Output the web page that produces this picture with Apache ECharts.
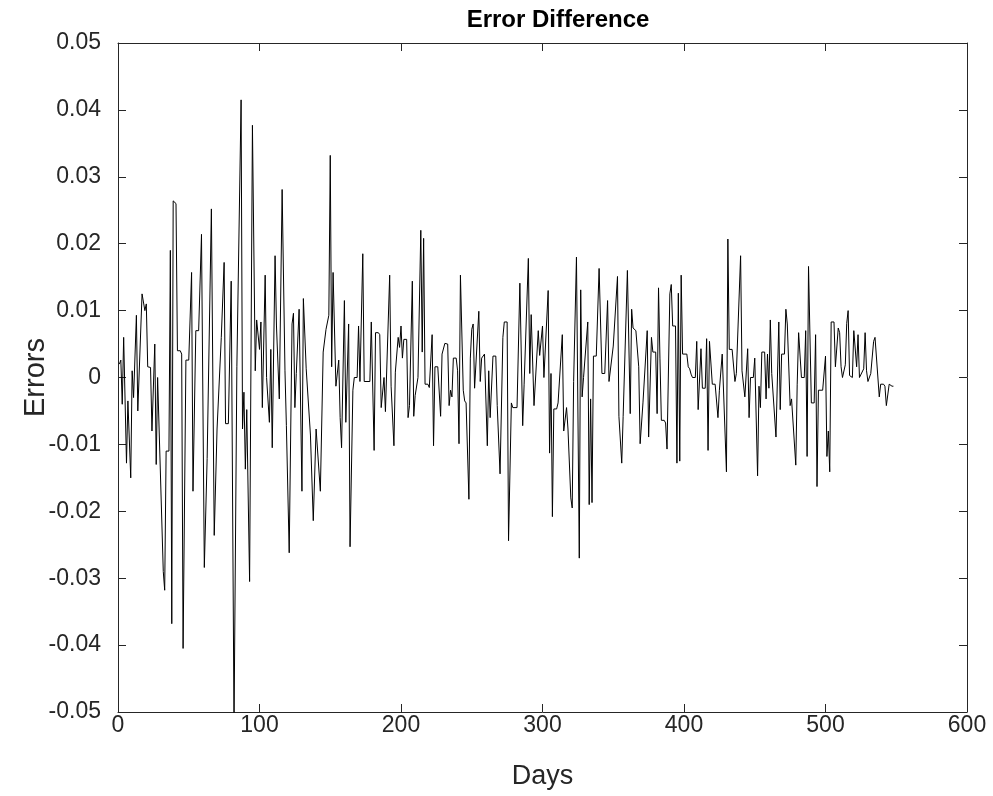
<!DOCTYPE html>
<html>
<head>
<meta charset="utf-8">
<script src="https://cdn.jsdelivr.net/npm/echarts@6/dist/echarts.min.js"></script>
<style>html,body{margin:0;padding:0;background:#fff;}#chart{width:993px;height:796px;}</style>
</head>
<body>
<div id="chart"></div>
<script>
const days = [1,2,3,4,6,7,8,9,10,11,13,14,15,17,19,20,21,23,24,26,27,28,29,32,33,34,36,37,38,39,41,42,44,45,46,48,50,52,53,55,57,59,61,63,64,66,68,70,71,73,75,76,78,80,82,84,85,87,88,89,90,91,92,93,95,97,98,99,100,101,102,104,105,106,107,108,109,111,112,113,114,116,118,119,120,121,123,124,125,126,127,128,130,131,133,134,136,138,140,141,143,145,147,148,149,150,151,152,154,155,156,157,158,160,161,162,163,164,166,167,169,170,171,173,174,178,179,181,182,184,185,186,188,189,190,192,193,195,196,197,198,199,200,201,202,204,205,206,208,209,210,211,212,214,215,216,217,219,220,222,223,224,226,228,229,231,233,234,235,236,237,239,240,241,242,244,245,246,248,249,250,251,252,253,255,256,257,259,260,261,262,263,265,267,268,270,272,273,275,276,278,279,282,284,286,287,288,290,291,292,294,295,297,298,300,301,302,304,305,306,307,308,310,311,314,315,316,317,318,320,321,322,323,324,326,327,328,329,330,332,333,334,335,336,338,340,342,344,346,347,350,351,353,354,356,357,358,360,362,363,364,366,368,369,371,372,374,375,377,378,380,381,382,383,384,386,387,388,390,391,392,394,395,396,397,398,399,402,403,404,405,406,408,409,410,412,413,415,416,417,418,420,422,424,425,427,428,430,431,432,434,436,437,440,441,442,443,445,446,447,449,450,452,453,454,455,457,458,459,460,461,462,463,465,467,468,469,471,472,473,475,476,477,479,480,481,483,485,486,487,488,490,492,493,494,495,498,500,501,502,503,504,506,507,509,510,511,512,513,514,515,516,517,519,520,522,523,524,525,527,528,529,530,532,533,534,535,538,539,541,542,543,545,547,548];
const errors = [0.002,0.0026,-0.004,0.006,-0.0128,-0.0035,-0.0035,-0.015,0.001,-0.003,0.0093,-0.005,-0.005,0.0125,0.010,0.011,0.0016,0.0015,-0.008,0.005,-0.013,0,0,-0.029,-0.0318,-0.011,-0.011,0.019,-0.0368,0.0264,0.026,0.004,0.004,0.0035,-0.0405,0.0026,0.0026,0.0157,-0.017,0.007,0.007,0.0214,-0.0284,-0.0121,-0.0121,0.0252,-0.0236,-0.0077,-0.0077,0.006,0.0172,-0.0069,-0.0069,0.0144,-0.052,0.0016,0.0016,0.0415,-0.0077,-0.0022,-0.0137,-0.0048,-0.0048,-0.0305,0.0377,0.001,0.0086,0.0086,0.0042,0.0083,-0.0045,0.0153,0,0,-0.0067,0.0042,-0.0105,0.0182,0.0077,0.0077,-0.0032,0.0281,0.001,-0.0072,-0.0072,-0.0262,0.008,0.0096,-0.0045,0.0006,0.0006,0.0102,-0.017,0.0118,0.0013,0.0013,-0.0086,-0.0214,-0.0077,-0.0077,-0.017,0.0038,0.0072,0.0072,0.0093,0.0332,0.0016,0.0157,-0.0013,-0.0013,0.0026,-0.006,-0.0105,0.0115,-0.0067,-0.0067,0.008,-0.0253,-0.0019,0,0,0.0077,-0.0006,0.0185,-0.0006,-0.0006,0.0083,-0.0109,0.0067,0.0067,0.0064,-0.0045,0,-0.0051,-0.0051,0.0153,-0.0013,-0.0102,0.0008,0.0008,0.006,0.0045,0.0077,0.0029,0.0057,0.0057,-0.006,-0.0042,0.0144,-0.0058,-0.0027,-0.0027,0,0.022,0.0038,0.0208,-0.001,-0.001,-0.0015,0.0064,-0.0102,0.0016,0.0016,-0.0058,0.0035,0.0051,0.005,-0.0042,-0.0019,-0.0029,0.0029,0.0029,0.001,-0.0099,0.0153,-0.0019,-0.0035,-0.0038,-0.0182,0.0029,0.0072,0.008,-0.0016,-0.0016,0.0099,-0.0006,0.0029,0.0035,0.0035,-0.0102,0.001,-0.006,0.0032,0.0032,-0.0042,-0.0144,0.006,0.0083,0.0083,-0.0244,-0.0038,-0.0045,-0.0045,0.0141,-0.0072,-0.0011,-0.0011,0.0178,0.0006,0.0094,-0.0042,-0.0042,0.007,0.0033,0.0077,0,0,0.013,-0.0113,0.0006,-0.0208,-0.0047,-0.0047,-0.0038,0.0064,-0.008,-0.008,-0.0045,-0.0077,-0.018,-0.0195,-0.0006,-0.0006,0.018,-0.027,0.0131,-0.0029,0,0,0.0083,-0.019,-0.0032,-0.0187,0.0032,0.0032,0.0163,0.0006,0.0006,0.0115,-0.0006,0.0047,0.0047,0.0151,-0.0058,-0.0128,-0.0058,-0.0058,0.016,-0.0054,0.0102,0.0074,0.007,0.0016,-0.0099,-0.0038,-0.0038,0.007,-0.0089,0.006,0.0038,0.0038,-0.0054,0.0134,0.0029,-0.0064,-0.0064,-0.0068,-0.0107,0.0125,0.0139,0.0077,0.0077,-0.0128,0.0126,-0.0125,0.0153,0.0035,0.0035,0.0016,0.0013,0.0005,0,0,0.0054,-0.0048,0.0043,-0.0016,-0.0016,0.0058,-0.0109,0.0054,-0.001,-0.001,-0.006,-0.0019,0.0035,0.0035,-0.0141,0.0207,0.0042,0.0042,-0.0006,0.0006,0.0182,0.001,0.001,-0.0029,0.0043,-0.006,0,0,0.0029,-0.0147,-0.0013,-0.0045,0.0038,0.0038,-0.0032,0.0035,-0.0016,0.0086,0.0006,0.0006,-0.0089,0.0083,-0.0048,0.0035,0.0035,0.0102,0.008,-0.0042,-0.0032,-0.0032,-0.0131,-0.001,0.0067,0,0,0.007,-0.0118,0.0166,-0.0038,-0.0038,0.0064,-0.0163,-0.0019,-0.0019,0.0032,-0.0118,-0.008,-0.0141,0.0083,0.0083,0.0016,0.0074,0.0067,0.0016,0,0,0.0019,0.0081,0.01,0.0003,0,0.007,0.0016,0.0064,0,0,0.0013,0.0067,0.001,-0.0006,0.0006,0.0006,0.0054,0.006,-0.0029,-0.001,-0.001,-0.0013,-0.0042,-0.001,-0.0013,-0.0013];
const xTicks = [0,100,200,300,400,500,600];
const yTicks = [-0.05,-0.04,-0.03,-0.02,-0.01,0,0.01,0.02,0.03,0.04,0.05];

const FONT = "'Liberation Sans', Arial, Helvetica, sans-serif";
const AX = '#262626';
const data = days.map((d, i) => [d, errors[i]]);
const fmtY = v => Math.abs(v) < 1e-9 ? '0' : v.toFixed(2);

const chart = echarts.init(document.getElementById('chart'), null, {renderer: 'canvas'});
const axisLine = {show: true, onZero: false, lineStyle: {color: AX, width: 1}};
const tick = {show: true, inside: true, length: 8, lineStyle: {color: AX, width: 1}};
chart.setOption({
  animation: false,
  backgroundColor: '#fff',
  title: {
    text: 'Error Difference',
    left: 553, top: 3, textAlign: 'center',
    textStyle: {fontFamily: FONT, fontSize: 24, fontWeight: 'bold', color: '#000'}
  },
  grid: {left: 118, right: 26, top: 43, bottom: 84, containLabel: false},
  xAxis: [{
    type: 'value', min: xTicks[0], max: xTicks[xTicks.length - 1], interval: 100, position: 'bottom',
    name: 'Days', nameLocation: 'middle', nameGap: 51, nameMoveOverlap: false,
    nameTextStyle: {fontFamily: FONT, fontSize: 27, color: AX},
    axisLine: axisLine, axisTick: tick, splitLine: {show: false},
    axisLabel: {fontFamily: FONT, fontSize: 23, color: AX, margin: 2}
  }, {
    type: 'value', min: xTicks[0], max: xTicks[xTicks.length - 1], interval: 100, position: 'top',
    axisLine: axisLine, axisTick: tick, splitLine: {show: false}, axisLabel: {show: false}
  }],
  yAxis: [{
    type: 'value', min: yTicks[0], max: yTicks[yTicks.length - 1], interval: 0.01, position: 'left',
    name: 'Errors', nameLocation: 'middle', nameGap: 68, nameMoveOverlap: false,
    nameTextStyle: {fontFamily: FONT, fontSize: 29, color: AX},
    axisLine: axisLine, axisTick: tick, splitLine: {show: false},
    axisLabel: {fontFamily: FONT, fontSize: 23, color: AX, margin: 17, formatter: fmtY}
  }, {
    type: 'value', min: yTicks[0], max: yTicks[yTicks.length - 1], interval: 0.01, position: 'right',
    axisLine: axisLine, axisTick: tick, splitLine: {show: false}, axisLabel: {show: false}
  }],
  series: [{
    type: 'line', xAxisIndex: 0, yAxisIndex: 0, data: data,
    showSymbol: false, clip: true,
    lineStyle: {color: '#000', width: 1}
  }]
});
</script>
</body>
</html>
